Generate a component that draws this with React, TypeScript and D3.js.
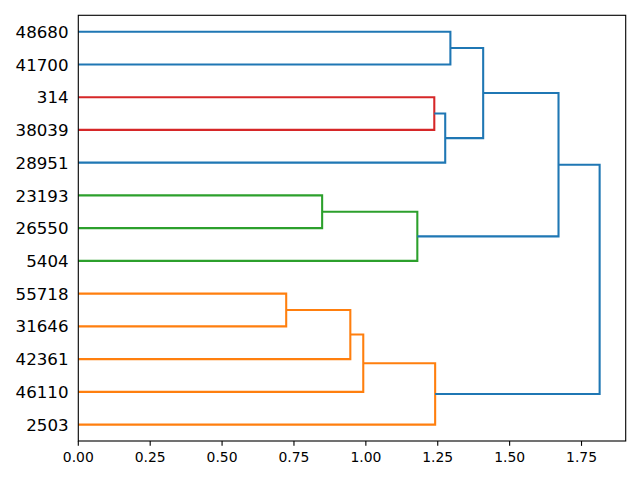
import React from "react";
import * as d3 from "d3";

// Leaves in dendrogram order, bottom to top
const leafLabels = ["2503", "46110", "42361", "31646", "55718", "5404", "26550", "23193", "28951", "38039", "314", "41700", "48680"];
// Merges: child A id, child B id (leaves 0..12, clusters 13+), merge distance
const mergeA = [4, 13, 14, 15, 7, 17, 10, 19, 12, 21, 22, 23];
const mergeB = [3, 2, 1, 0, 6, 5, 9, 8, 11, 20, 18, 16];
const mergeHeight = [0.723, 0.946, 0.991, 1.241, 0.848, 1.179, 1.238, 1.276, 1.294, 1.408, 1.670, 1.813];
const mergeColor = ["#ff7f0e", "#ff7f0e", "#ff7f0e", "#ff7f0e", "#2ca02c", "#2ca02c", "#d62728", "#1f77b4", "#1f77b4", "#1f77b4", "#1f77b4", "#1f77b4"];
const xTicks = [0, 0.25, 0.5, 0.75, 1.0, 1.25, 1.5, 1.75];

export default function App() {
  const W = 640, H = 480;
  const left = 78.3, right = 625.7, top = 15.3, bottom = 441;
  const n = leafLabels.length;
  const maxH = d3.max(mergeHeight) as number;
  const x = d3.scaleLinear().domain([0, maxH * 1.05]).range([left, right]);
  const y = d3.scaleLinear().domain([0, n * 10]).range([bottom, top]);

  const pos: number[] = leafLabels.map((_, i) => 5 + 10 * i);
  const hgt: number[] = leafLabels.map(() => 0);
  const links: { d: string; c: string }[] = [];
  mergeA.forEach((a, i) => {
    const b = mergeB[i];
    const h = mergeHeight[i];
    const path = d3.path();
    path.moveTo(x(hgt[a]), y(pos[a]));
    path.lineTo(x(h), y(pos[a]));
    path.lineTo(x(h), y(pos[b]));
    path.lineTo(x(hgt[b]), y(pos[b]));
    links.push({ d: path.toString(), c: mergeColor[i] });
    pos.push((pos[a] + pos[b]) / 2);
    hgt.push(h);
  });

  const font = "DejaVu Sans, sans-serif";
  return (
    <svg width={W} height={H} style={{ position: "fixed", left: 0, top: 0, background: "#fff" }}>
      <rect x={0} y={0} width={W} height={H} fill="#fff" />
      {links.map((l, i) => (
        <path key={i} d={l.d} fill="none" stroke={l.c} strokeWidth={2.08} strokeLinejoin="miter" />
      ))}
      <rect x={left} y={top} width={right - left} height={bottom - top} fill="none" stroke="#000" strokeWidth={1.11} />
      {xTicks.map((t) => (
        <g key={t}>
          <line x1={x(t)} x2={x(t)} y1={bottom} y2={bottom + 4.86} stroke="#000" strokeWidth={1.11} />
          <text x={x(t)} y={462.3} textAnchor="middle" fontFamily={font} fontSize={13.9} fill="#000">
            {t.toFixed(2)}
          </text>
        </g>
      ))}
      {leafLabels.map((lab, i) => (
        <text key={lab} x={left - 9.72} y={y(5 + 10 * i) + 6.1} textAnchor="end" fontFamily={font} fontSize={16.67} fill="#000">
          {lab}
        </text>
      ))}
    </svg>
  );
}
